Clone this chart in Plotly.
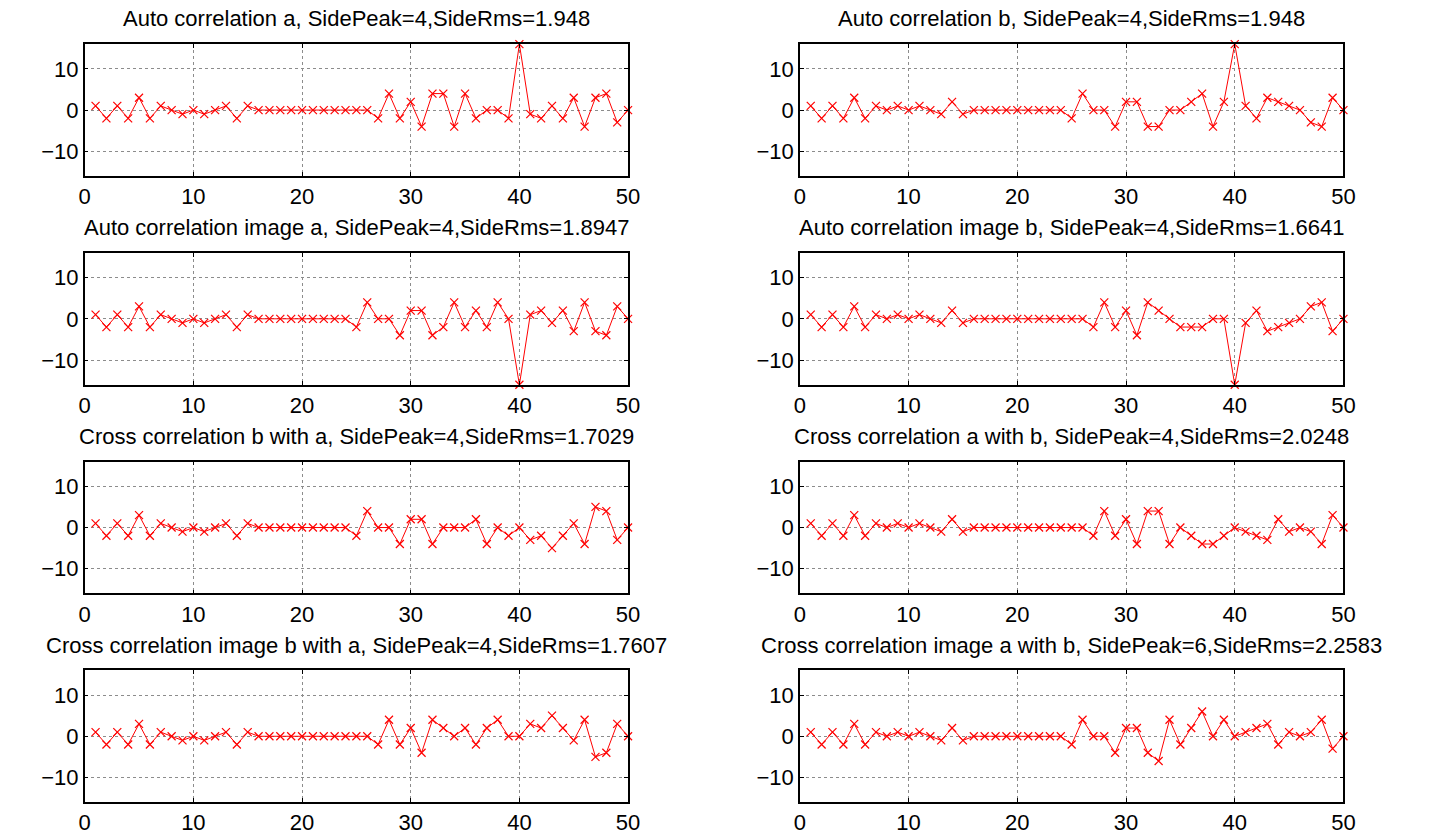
import plotly.graph_objects as go

lags = list(range(1, 51))

auto_a = [1, -2, 1, -2, 3, -2, 1, 0, -1, 0, -1, 0, 1, -2, 1, 0, 0, 0, 0, 0, 0, 0, 0, 0, 0, 0,
          -2, 4, -2, 2, -4, 4, 4, -4, 4, -2, 0, 0, -2, 16, -1, -2, 1, -2, 3, -4, 3, 4, -3, 0]
auto_b = [1, -2, 1, -2, 3, -2, 1, 0, 1, 0, 1, 0, -1, 2, -1, 0, 0, 0, 0, 0, 0, 0, 0, 0,
          -2, 4, 0, 0, -4, 2, 2, -4, -4, 0, 0, 2, 4, -4, 2, 16, 1, -2, 3, 2, 1, 0, -3, -4, 3, 0]
auto_img_a = [1, -2, 1, -2, 3, -2, 1, 0, -1, 0, -1, 0, 1, -2, 1, 0, 0, 0, 0, 0, 0, 0, 0, 0,
              -2, 4, 0, 0, -4, 2, 2, -4, -2, 4, -2, 2, -2, 4, 0, -16, 1, 2, -1, 2, -3, 4, -3, -4, 3, 0]
auto_img_b = [1, -2, 1, -2, 3, -2, 1, 0, 1, 0, 1, 0, -1, 2, -1, 0, 0, 0, 0, 0, 0, 0, 0, 0, 0, 0,
              -2, 4, -2, 2, -4, 4, 2, 0, -2, -2, -2, 0, 0, -16, -1, 2, -3, -2, -1, 0, 3, 4, -3, 0]
cross_ba = [1, -2, 1, -2, 3, -2, 1, 0, -1, 0, -1, 0, 1, -2, 1, 0, 0, 0, 0, 0, 0, 0, 0, 0,
            -2, 4, 0, 0, -4, 2, 2, -4, 0, 0, 0, 2, -4, 0, -2, 0, -3, -2, -5, -2, 1, -4, 5, 4, -3, 0]
cross_ab = [1, -2, 1, -2, 3, -2, 1, 0, 1, 0, 1, 0, -1, 2, -1, 0, 0, 0, 0, 0, 0, 0, 0, 0, 0, 0,
            -2, 4, -2, 2, -4, 4, 4, -4, 0, -2, -4, -4, -2, 0, -1, -2, -3, 2, -1, 0, -1, -4, 3, 0]
cross_img_ba = [1, -2, 1, -2, 3, -2, 1, 0, -1, 0, -1, 0, 1, -2, 1, 0, 0, 0, 0, 0, 0, 0, 0, 0, 0, 0,
                -2, 4, -2, 2, -4, 4, 2, 0, 2, -2, 2, 4, 0, 0, 3, 2, 5, 2, -1, 4, -5, -4, 3, 0]
cross_img_ab = [1, -2, 1, -2, 3, -2, 1, 0, 1, 0, 1, 0, -1, 2, -1, 0, 0, 0, 0, 0, 0, 0, 0, 0,
                -2, 4, 0, 0, -4, 2, 2, -4, -6, 4, -2, 2, 6, 0, 4, 0, 1, 2, 3, -2, 1, 0, 1, 4, -3, 0]

titles = [
    "Auto correlation a, SidePeak=4,SideRms=1.948",
    "Auto correlation b, SidePeak=4,SideRms=1.948",
    "Auto correlation image a, SidePeak=4,SideRms=1.8947",
    "Auto correlation image b, SidePeak=4,SideRms=1.6641",
    "Cross correlation b with a, SidePeak=4,SideRms=1.7029",
    "Cross correlation a with b, SidePeak=4,SideRms=2.0248",
    "Cross correlation image b with a, SidePeak=4,SideRms=1.7607",
    "Cross correlation image a with b, SidePeak=6,SideRms=2.2583",
]
series = [auto_a, auto_b, auto_img_a, auto_img_b, cross_ba, cross_ab, cross_img_ba, cross_img_ab]

x_ticks = [0, 10, 20, 30, 40, 50]
y_ticks = [-10, 0, 10]

W, H = 1430, 835
col_px = [(79.7, 630.0), (804.0, 1354.5)]
row_top = [44.5, 255.0, 465.5, 676.0]
row_h = 133.0
title_y = [19.0, 229.5, 440.0, 650.5]

FONT = "Liberation Sans, Arial, sans-serif"
fig = go.Figure()
layout = dict(
    width=W, height=H, margin=dict(l=0, r=0, t=0, b=0),
    paper_bgcolor="white", plot_bgcolor="white", showlegend=False,
    font=dict(family=FONT, size=22, color="black"),
)
annotations = []
for i, (ttl, ys) in enumerate(zip(titles, series)):
    r, c = divmod(i, 2)
    n = i + 1
    xa = "xaxis" if n == 1 else f"xaxis{n}"
    ya = "yaxis" if n == 1 else f"yaxis{n}"
    xr = "x" if n == 1 else f"x{n}"
    yr = "y" if n == 1 else f"y{n}"
    x0, x1 = col_px[c]
    t, b = row_top[r], row_top[r] + row_h
    common = dict(showline=True, linecolor="black", linewidth=1.5, mirror="ticks",
                  ticks="inside", ticklen=4, tickcolor="black",
                  showgrid=True, gridcolor="#8c8c8c", griddash="dot", gridwidth=1,
                  zeroline=False, tickfont=dict(family=FONT, size=22, color="black"))
    layout[xa] = dict(domain=[x0 / W, x1 / W], anchor=yr, range=[0, 50],
                      tickvals=x_ticks, **common)
    layout[ya] = dict(domain=[1 - b / H, 1 - t / H], anchor=xr, range=[-16, 16],
                      tickvals=y_ticks, **common)
    fig.add_trace(go.Scatter(
        x=lags, y=ys, xaxis=xr, yaxis=yr, mode="lines+markers",
        line=dict(color="#ff0000", width=1),
        marker=dict(symbol="x-thin", size=8, line=dict(color="#ff0000", width=1.2), color="#ff0000"),
        cliponaxis=False,
    ))
    annotations.append(dict(
        text=ttl, xref="paper", yref="paper", x=(x0 + x1) / 2 / W, y=1 - title_y[r] / H,
        xanchor="center", yanchor="middle", showarrow=False,
        font=dict(family=FONT, size=22, color="black"),
    ))
layout["annotations"] = annotations
fig.update_layout(**layout)
fig.write_html("out.html")
